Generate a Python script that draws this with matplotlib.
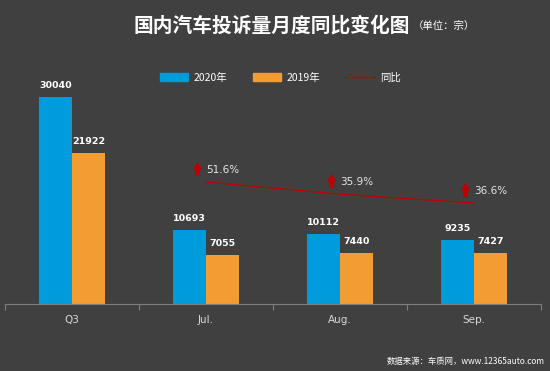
import matplotlib
matplotlib.use("Agg")
import matplotlib.pyplot as plt
from matplotlib.patches import Patch
from matplotlib.lines import Line2D
from matplotlib.transforms import offset_copy
import numpy as np

plt.rcParams['font.family'] = ['Noto Sans CJK SC', 'DejaVu Sans']

categories = ["Q3", "Jul.", "Aug.", "Sep."]
values_2020 = [30040, 10693, 10112, 9235]
values_2019 = [21922, 7055, 7440, 7427]
# 同比 line (monthly only)
ratio_cats = ["Jul.", "Aug.", "Sep."]
ratio_values = [51.6, 35.9, 24.3]
ratio_labels = ["51.6%", "35.9%", "36.6%"]

bg = "#404040"
blue = "#009bda"
orange = "#f39c31"
red = "#c00000"

fig = plt.figure(figsize=(5.5, 3.71), dpi=100, facecolor=bg)
ax = fig.add_axes([0.009, 0.1806, 0.9745, 0.5633])
ax.set_facecolor(bg)

x = np.arange(len(categories))
w = 0.246
b1 = ax.bar(x - w / 2, values_2020, w, color=blue)
b2 = ax.bar(x + w / 2, values_2019, w, color=orange)
for bars in (b1, b2):
    for r in bars:
        ax.annotate(f"{int(r.get_height())}", (r.get_x() + r.get_width() / 2, r.get_height()),
                    xytext=(0, 5), textcoords="offset points", ha="center", va="bottom",
                    color="white", fontsize=6.8, fontweight="bold", family="DejaVu Sans",
                    annotation_clip=False)

ax.set_xlim(-0.5, len(categories) - 0.5)
ax.set_ylim(0, 30330)
ax.set_xticks(x)
ax.set_xticklabels(categories, color="#d9d9d9", fontsize=7.5, family="DejaVu Sans")
ax.set_xticks(np.arange(-0.5, len(categories)), minor=True)
ax.tick_params(axis="x", which="major", length=0, pad=8)
ax.tick_params(axis="x", which="minor", length=4, color="#7f7f7f", width=0.8)
ax.set_yticks([])
for s in ["top", "right", "left"]:
    ax.spines[s].set_visible(False)
ax.spines["bottom"].set_color("#7f7f7f")
ax.spines["bottom"].set_linewidth(0.8)

ax2 = ax.twinx()
ax2.set_ylim(-106.8, 164.6)
ax2.axis("off")
rx = [categories.index(c) for c in ratio_cats]
ax2.plot(rx, ratio_values, color=red, lw=0.9)
head = offset_copy(ax2.transData, fig=fig, x=-6, y=14.5, units="points")
tail = offset_copy(ax2.transData, fig=fig, x=-6, y=4.5, units="points")
for xi, v, lab in zip(rx, ratio_values, ratio_labels):
    ax2.annotate(lab, (xi, v), xytext=(0, 9), textcoords="offset points",
                 ha="left", va="center", color="#e6e6e6", fontsize=7.5, family="DejaVu Sans")
    ax2.annotate("", xy=(xi, v), xycoords=head, xytext=(xi, v), textcoords=tail,
                 arrowprops=dict(arrowstyle="simple,head_width=0.7,head_length=0.55,tail_width=0.35",
                                 color=red, lw=0, shrinkA=0, shrinkB=0))

fig.text(0.243, 0.932, "国内汽车投诉量月度同比变化图", color="white", fontsize=14.2,
         fontweight="bold", ha="left", va="center")
fig.text(0.75, 0.929, "（单位：宗）", color="white", fontsize=7.5, ha="left", va="center")

handles = [Patch(color=blue), Patch(color=orange), Line2D([], [], color=red, lw=1)]
fig.legend(handles, ["2020年", "2019年", "同比"], loc="center", bbox_to_anchor=(0.51, 0.79),
           ncol=3, frameon=False, fontsize=7.5, labelcolor="white", handlelength=2.6,
           handleheight=0.8, handletextpad=0.6, columnspacing=2.5)

fig.text(0.99, 0.025, "数据来源：车质网，www.12365auto.com", color="white", fontsize=6,
         ha="right", va="center")

fig.savefig("out.png", dpi=100, facecolor=bg)
